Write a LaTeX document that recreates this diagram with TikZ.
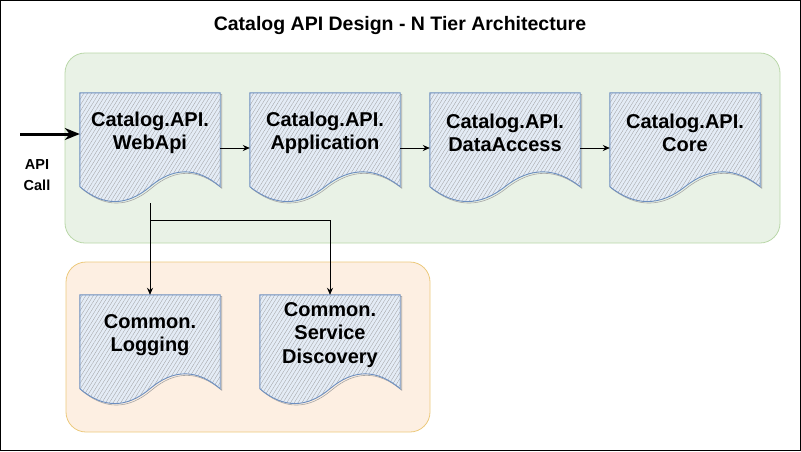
\documentclass[tikz,border=0pt]{standalone}
\usepackage{fontspec}
\setmainfont{Liberation Sans}
\usetikzlibrary{calc}
\usetikzlibrary{arrows.meta}
\usetikzlibrary{patterns.meta}
\definecolor{tierfill}{HTML}{E9F2E6}
\definecolor{tierline}{HTML}{B9D7A8}
\definecolor{commonfill}{HTML}{FDEFE2}
\definecolor{commonline}{HTML}{ECC97C}
\definecolor{docfill}{HTML}{E4ECF6}
\definecolor{docedge}{HTML}{6C8EBF}
\definecolor{hatch}{HTML}{9C9C9C}
\pgfdeclarelayer{back}
\pgfdeclarelayer{docs}
\pgfsetlayers{back,docs,main}
\tikzset{
	doc box/.style={minimum height=110pt,inner sep=0pt,draw=none},
	doc text/.style={align=center,font=\fontsize{20}{23.5}\selectfont\bfseries},
	doc line/.style={
	draw=docedge,line width=0.9pt,
	preaction={draw=gray!70,line width=0.6pt,transform canvas={shift={(1.5pt,-1.5pt)}}},
	preaction={fill=docfill},
	pattern={Lines[angle=58,distance=3.2pt,line width=0.3pt]},pattern color=hatch
	},
	tier/.style={rounded corners=20pt,line width=0.8pt},
	conn/.style={-{Stealth[length=7pt,width=6pt]},line width=0.8pt}
}
% document outline with wavy bottom, drawn round a named node
\newcommand{\docshape}[1]{%
	\draw[doc line] (#1.north west) -- (#1.north east) -- ($(#1.south east)+(0,-16.5)$)
	.. controls ($(#1.south west)!.8333!(#1.south east)+(0,-36.3)$) and ($(#1.south west)!.6667!(#1.south east)+(0,-36.3)$) .. ($(#1.south)+(0,-16.5)$)
	.. controls ($(#1.south west)!.3333!(#1.south east)+(0,3.3)$) and ($(#1.south west)!.1667!(#1.south east)+(0,3.3)$) .. ($(#1.south west)+(0,-16.5)$)
	-- cycle;}
\begin{document}
\begin{tikzpicture}[x=1pt,y=-1pt]
	\useasboundingbox (0,0) rectangle (801,451);
	\draw[line width=1pt] (0.5,0.5) rectangle (800.5,450.5);
	\node[font=\fontsize{19.5}{22}\selectfont\bfseries] (title) at (400,25) {Catalog API Design - N Tier Architecture};
	\begin{pgfonlayer}{back}
		\draw[tier,fill=tierfill,draw=tierline] (65,53) rectangle (780,243);
		\draw[tier,fill=commonfill,draw=commonline] (66,262) rectangle (430,432);
	\end{pgfonlayer}
	% tier boxes
	\node[doc box,minimum width=140pt] (web) at (150,148) {};
	\node[doc box,minimum width=150pt] (app) at (325,148) {};
	\node[doc box,minimum width=150pt] (data) at (505,148) {};
	\node[doc box,minimum width=150pt] (core) at (685,148) {};
	\node[doc box,minimum width=140pt] (logging) at (150,350) {};
	\node[doc box,minimum width=140pt] (discovery) at (330,350) {};
	\begin{pgfonlayer}{docs}
		\docshape{web}
		\docshape{app}
		\docshape{data}
		\docshape{core}
		\docshape{logging}
		\docshape{discovery}
	\end{pgfonlayer}
	\node[doc text] (webtxt) at ($(web.center)+(0,-15)$) {Catalog.API.\\WebApi};
	\node[doc text] (apptxt) at ($(app.center)+(0,-15)$) {Catalog.API.\\Application};
	\node[doc text] (datatxt) at ($(data.center)+(0,-15)$) {Catalog.API.\\DataAccess};
	\node[doc text] (coretxt) at ($(core.center)+(0,-15)$) {Catalog.API.\\Core};
	\node[doc text] (loggingtxt) at ($(logging.center)+(0,-15)$) {Common.\\Logging};
	\node[doc text] (discoverytxt) at ($(discovery.center)+(0,-15)$) {Common.\\Service\\Discovery};
	% incoming call
	\coordinate (apistart) at (20,134);
	\node[align=center,font=\fontsize{14.5}{21}\selectfont\bfseries] (apilbl) at (37,175) {API\\Call};
	\draw[-{Stealth[length=15pt,width=12pt]},line width=3pt] (apistart) -- (apistart -| web.west);
	\draw[conn] (web) -- (app);
	\draw[conn] (app) -- (data);
	\draw[conn] (data) -- (core);
	\coordinate (split) at (150,220);
	\draw[conn] (web.south) -- (logging.north);
	\draw[conn] (web.south) -- (split) -| (discovery.north);
\end{tikzpicture}
\end{document}
